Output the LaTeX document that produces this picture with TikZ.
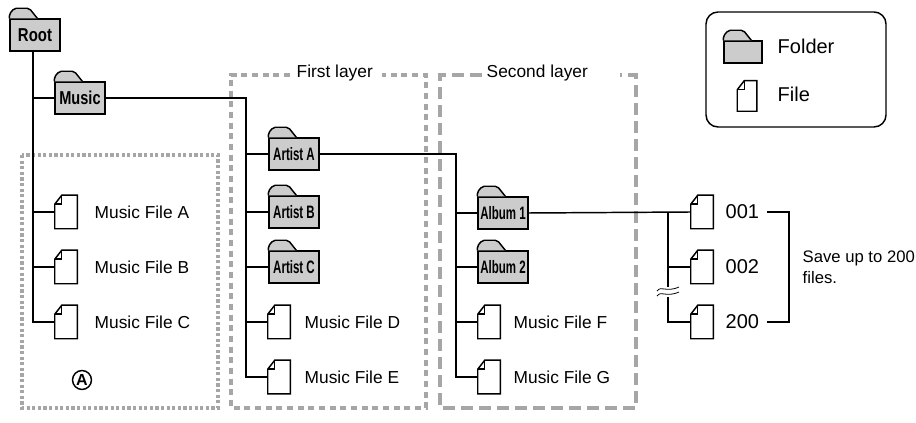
\documentclass[tikz,border=0pt]{standalone}
\usepackage{fontspec}
\setmainfont{Liberation Sans}
\begin{document}
\begin{tikzpicture}[x=0.75pt,y=-0.75pt,
  folder/.style={draw,fill=gray!40,line width=1.1pt,minimum width=50*0.75pt,minimum height=32*0.75pt,inner sep=0pt,font=\bfseries\fontsize{14}{14}\selectfont},
  sub/.style={font=\bfseries\fontsize{13.5}{14}\selectfont},
  file/.style={minimum width=22*0.75pt,minimum height=33*0.75pt,inner sep=0pt},
  lbl/.style={anchor=west,font=\fontsize{13}{15}\selectfont},
  ln/.style={line width=1.1pt},
  boxA/.style={draw=gray!70,line width=3pt,dash pattern=on 2.4pt off 1.8pt},
  boxB/.style={draw=gray!70,line width=3pt,dash pattern=on 4.5pt off 3.5pt},
  boxC/.style={draw=gray!70,line width=3pt,dash pattern=on 9pt off 4.5pt}]
\useasboundingbox (0,0) rectangle (916,423);
% boxes
\draw[boxA] (22,155) rectangle (218,408);
\node[draw,circle,line width=1.1pt,inner sep=0.8pt,font=\bfseries\fontsize{12}{12}\selectfont] (circA) at (82,380) {A};
\draw[boxB] (290,75) -- (231,75) -- (231,408) -- (426,408) -- (426,75) -- (382,75);
\node[lbl] (fl) at (292,73) {First layer};
\draw[boxC] (482,75) -- (440,75) -- (440,408) -- (636,408) -- (636,75) -- (620,75);
\node[lbl] (sl) at (482,73) {Second layer};
% legend
\draw[line width=1.1pt,rounded corners=9pt] (706,12) rectangle (886,127);
\node[folder,minimum width=38*0.75pt,minimum height=22*0.75pt] (lf) at (743,52) {};
\node[file,minimum width=19*0.75pt,minimum height=30*0.75pt] (lfi) at (747,96) {};
\node[lbl,font=\fontsize{15}{17}\selectfont] (lft) at (773,46) {Folder};
\node[lbl,font=\fontsize{15}{17}\selectfont] (lfit) at (773,94) {File};
% folders
\node[folder] (root) at (35,35) {\scalebox{0.8}[1]{Root}};
\node[folder] (music) at (80,98) {\scalebox{0.78}[1]{Music}};
\node[folder,sub] (aa) at (294,154) {\scalebox{0.64}[1]{Artist A}};
\node[folder,sub] (ab) at (294,212) {\scalebox{0.64}[1]{Artist B}};
\node[folder,sub] (ac) at (294,267) {\scalebox{0.64}[1]{Artist C}};
\node[folder,sub] (al1) at (503,213) {\scalebox{0.64}[1]{Album 1}};
\node[folder,sub] (al2) at (503,267) {\scalebox{0.64}[1]{Album 2}};
% files
\node[file] (fa) at (66,212) {}; \node[lbl] (ta) at (90,212) {Music File A};
\node[file] (fb) at (66,267) {}; \node[lbl] (tb) at (90,267) {Music File B};
\node[file] (fc) at (66,322) {}; \node[lbl] (tc) at (90,322) {Music File C};
\node[file] (fd) at (279,322) {}; \node[lbl] (td) at (300,322) {Music File D};
\node[file] (fe) at (279,377) {}; \node[lbl] (te) at (300,377) {Music File E};
\node[file] (ff) at (489,322) {}; \node[lbl] (tf) at (509,322) {Music File F};
\node[file] (fg) at (489,377) {}; \node[lbl] (tg) at (509,377) {Music File G};
\node[file] (f1) at (702,212) {}; \node[lbl,font=\fontsize{15}{17}\selectfont] (t1) at (721,212) {001};
\node[file] (f2) at (702,267) {}; \node[lbl,font=\fontsize{15}{17}\selectfont] (t2) at (721,267) {002};
\node[file] (f3) at (702,322) {}; \node[lbl,font=\fontsize{15}{17}\selectfont] (t3) at (721,322) {200};
\node[lbl,align=left,font=\fontsize{12.5}{16}\selectfont] (save) at (798,267) {Save up to 200\\files.};
% folder tabs
\foreach \n in {root,music,aa,ab,ac,al1,al2,lf}{
  \draw[ln,fill=gray!40,rounded corners=1.5pt] (\n.north west) -- ++(0,-4) -- ++(5,-6) -- ++(15,0) -- ++(8,10);
}
% file icons
\foreach \n in {fa,fb,fc,fd,fe,ff,fg,f1,f2,f3,lfi}{
  \draw[ln,fill=white] ([xshift=7*0.75pt]\n.north west) -- (\n.north east) -- (\n.south east) -- (\n.south west) -- ([yshift=-9*0.75pt]\n.north west) -- cycle;
  \draw[ln] ([yshift=-9*0.75pt]\n.north west) -- ([xshift=7*0.75pt,yshift=-9*0.75pt]\n.north west) -- ([xshift=7*0.75pt]\n.north west);
}
% connectors
\coordinate (vr) at (33,0);
\coordinate (vm) at (246,0);
\coordinate (va) at (456,0);
\coordinate (vf) at (668,0);
\coordinate (vb) at (789,0);
\coordinate (bs) at (767,0);
\draw[ln] (root.south -| vr) |- (fc.west);
\draw[ln] (vr |- music) -- (music.west);
\draw[ln] (vr |- fa) -- (fa.west);
\draw[ln] (vr |- fb) -- (fb.west);
\draw[ln] (music.east) -| (vm |- fe) -- (fe.west);
\foreach \n in {aa,ab,ac,fd}{\draw[ln] (vm |- \n) -- (\n.west);}
\draw[ln] (aa.east) -| (va |- fg) -- (fg.west);
\foreach \n in {al1,al2,ff}{\draw[ln] (va |- \n) -- (\n.west);}
\draw[ln] (al1.east) -- (f1.west);
\draw[ln] (vf |- f1) -- (vf |- f3) -- (f3.west);
\draw[ln] (vf |- f2) -- (f2.west);
\fill[white] (660,287) rectangle (676,297);
\draw[line width=0.6pt] (657,291) .. controls (662,285) and (665,293) .. (679,287);
\draw[line width=0.6pt] (657,296) .. controls (662,290) and (665,298) .. (679,292);
\draw[ln] (bs |- t1) -- (vb |- t1) -- (vb |- t3) -- (bs |- t3);
\end{tikzpicture}
\end{document}
